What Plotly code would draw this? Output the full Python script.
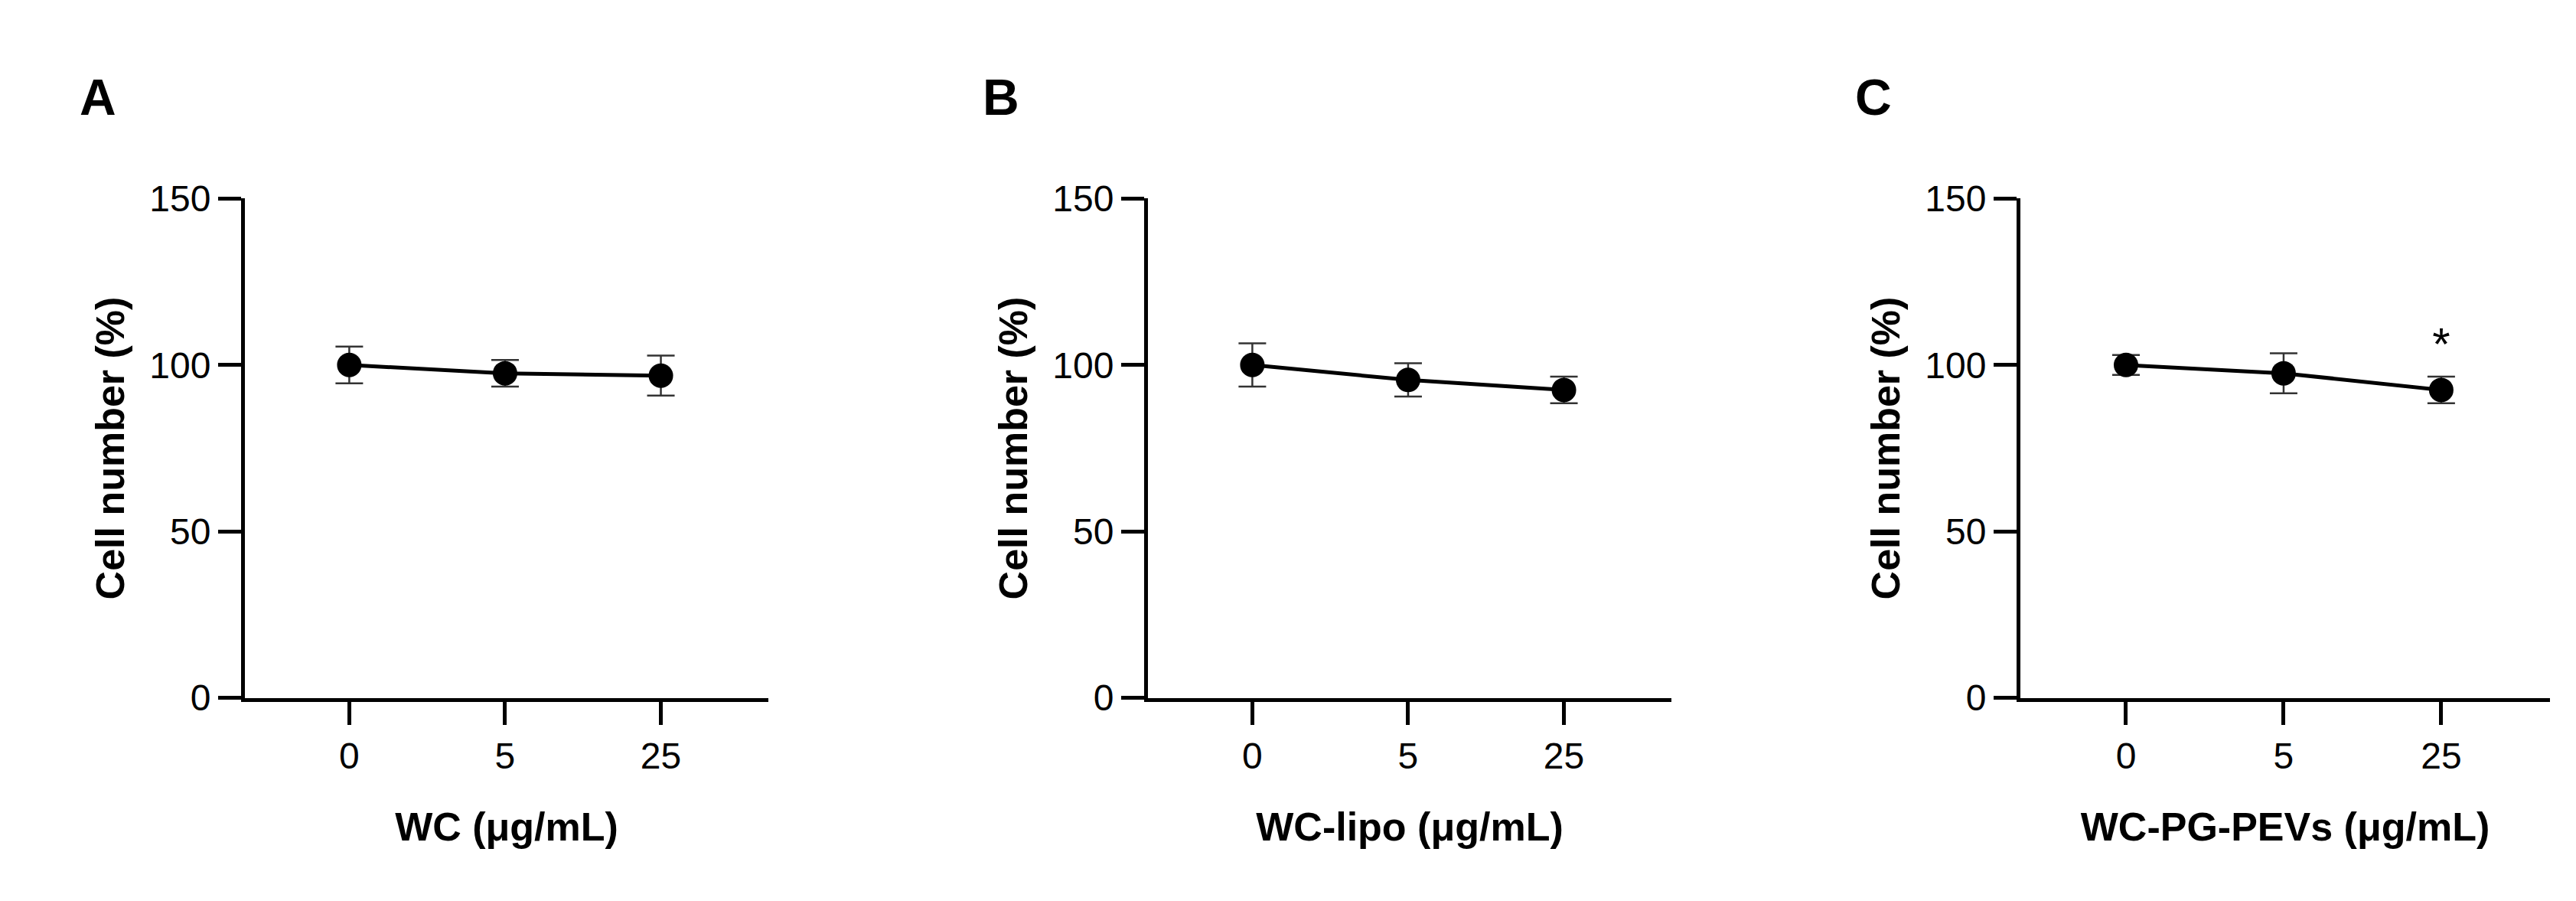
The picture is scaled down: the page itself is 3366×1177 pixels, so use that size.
import plotly.graph_objects as go

doses = ["0", "5", "25"]
panel_letters = ["A", "B", "C"]
x_titles = ["WC (μg/mL)", "WC-lipo (μg/mL)", "WC-PG-PEVs (μg/mL)"]
means = [[100, 97.5, 96.8], [100, 95.5, 92.5], [100, 97.5, 92.5]]
errors = [[5.5, 4, 6], [6.5, 5, 4], [3, 6, 4]]
stars = [[], [], ["", "", "*"]]

W, H = 3366, 1177
domains = [[312/W, 996/W], [1492/W, 2176/W], [2632/W, 3324/W]]
ydom = [1-919/H, 1-236/H]
font = "Liberation Sans, Arial, sans-serif"

fig = go.Figure()
for i in range(3):
    xa = "x" if i == 0 else f"x{i+1}"
    ya = "y" if i == 0 else f"y{i+1}"
    xs = list(range(len(doses)))
    fig.add_trace(go.Scatter(
        x=xs, y=means[i], xaxis=xa, yaxis=ya, mode="lines+markers",
        line=dict(color="black", width=5),
        marker=dict(color="black", size=32),
        error_y=dict(type="data", array=errors[i], color="#333", thickness=2.5, width=18),
        showlegend=False))
    if stars[i]:
        sx = [x for x, s in zip(xs, stars[i]) if s]
        sy = [means[i][x] + errors[i][x] + 1.5 for x in sx]
        fig.add_trace(go.Scatter(x=sx, y=sy, xaxis=xa, yaxis=ya, mode="text",
                                 text=[s for s in stars[i] if s], textposition="top center",
                                 textfont=dict(size=60, color="black", family=font), showlegend=False))
    ax = dict(domain=domains[i], range=[-0.67, 2.69], tickvals=xs, ticktext=doses,
              showline=True, linecolor="black", linewidth=5, ticks="outside", ticklen=30,
              tickwidth=5, tickcolor="black", showgrid=False, zeroline=False,
              tickfont=dict(size=48, color="black", family=font),
              title=dict(text=f"<b>{x_titles[i]}</b>", font=dict(size=52, color="black", family=font), standoff=50),
              anchor=ya)
    ay = dict(domain=ydom, range=[0, 150], tickvals=[0, 50, 100, 150],
              showline=True, linecolor="black", linewidth=5, ticks="outside", ticklen=30,
              tickwidth=5, tickcolor="black", showgrid=False, zeroline=False,
              tickfont=dict(size=48, color="black", family=font),
              title=dict(text="<b>Cell number (%)</b>", font=dict(size=52, color="black", family=font), standoff=18),
              anchor=xa)
    fig.layout["xaxis" if i == 0 else f"xaxis{i+1}"] = ax
    fig.layout["yaxis" if i == 0 else f"yaxis{i+1}"] = ay
    fig.add_annotation(text=f"<b>{panel_letters[i]}</b>", xref="paper", yref="paper",
                       x=(domains[i][0]*W - 218)/W, y=1-97/H, showarrow=False,
                       xanchor="left", yanchor="middle",
                       font=dict(size=66, color="black", family=font))

fig.update_layout(width=W, height=H, margin=dict(l=0, r=0, t=0, b=0),
                  plot_bgcolor="white", paper_bgcolor="white")
fig.write_html("out.html")
